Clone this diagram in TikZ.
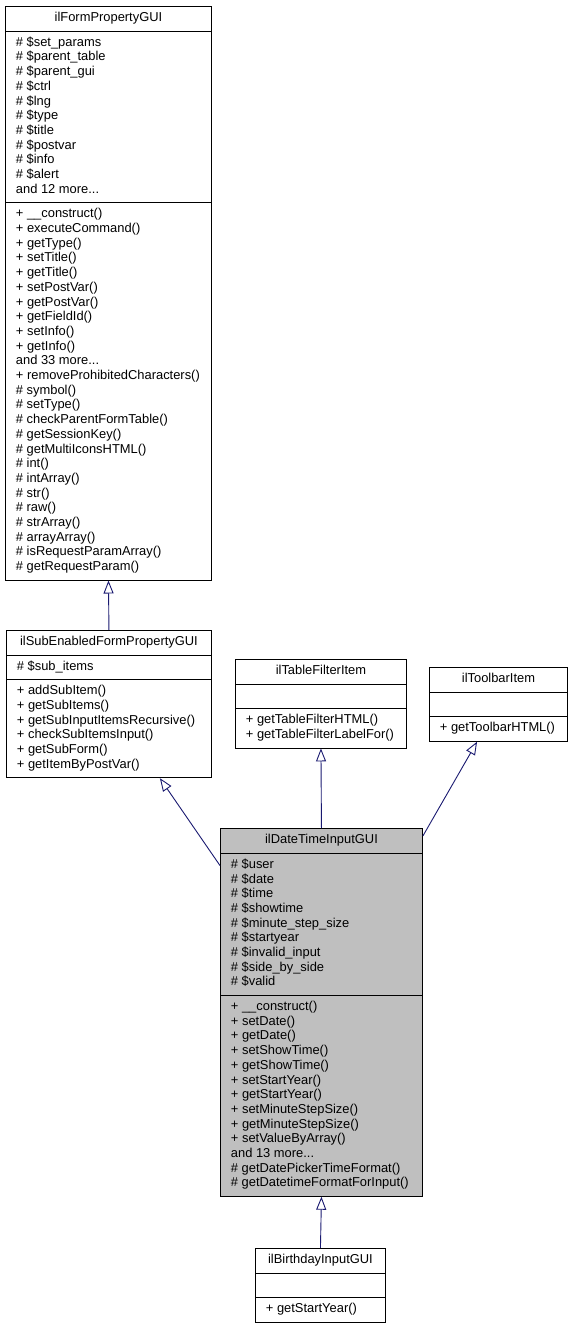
\documentclass[tikz,border=0pt]{standalone}
\usepackage{fontspec}
\setmainfont{Liberation Sans}
\usetikzlibrary{shapes.multipart,arrows.meta}
\definecolor{dtgray}{HTML}{BFBFBF}
\definecolor{edgeblue}{HTML}{191970}
\newcommand{\members}[1]{\begin{tabular}{@{}l@{}}#1\end{tabular}}
\begin{document}
\begin{tikzpicture}[x=1pt,y=-1pt]
\tikzset{classbox/.style={draw, line width=0.9pt, rectangle split, rectangle split parts=3,
  rectangle split part align={center,left,left}, anchor=north west,
  inner xsep=10.5pt, inner ysep=4.5pt, font=\fontsize{12.9}{14.7}\selectfont}}
\tikzset{inherit/.style={draw=edgeblue, line width=0.9pt, -{Triangle[open, length=13pt, width=10pt]}}}
\useasboundingbox (0,0) rectangle (574,1329);
\node[classbox, minimum width=206pt] (form) at (5,6) {\strut ilFormPropertyGUI
\nodepart{second}\members{\# \$set\_params\\ \# \$parent\_table\\ \# \$parent\_gui\\ \# \$ctrl\\
\# \$lng\\ \# \$type\\ \# \$title\\ \# \$postvar\\ \# \$info\\ \# \$alert\\ and 12 more...}
\nodepart{third}\members{+ \_\_construct()\\ + executeCommand()\\ + getType()\\ + setTitle()\\
+ getTitle()\\ + setPostVar()\\ + getPostVar()\\ + getFieldId()\\ + setInfo()\\ + getInfo()\\
and 33 more...\\ + removeProhibitedCharacters()\\ \# symbol()\\ \# setType()\\
\# checkParentFormTable()\\ \# getSessionKey()\\ \# getMultiIconsHTML()\\ \# int()\\
\# intArray()\\ \# str()\\ \# raw()\\ \# strArray()\\ \# arrayArray()\\
\# isRequestParamArray()\\ \# getRequestParam()}};
\node[classbox, minimum width=205pt] (sub) at (6,630) {\strut ilSubEnabledFormPropertyGUI
\nodepart{second}\members{\# \$sub\_items}
\nodepart{third}\members{+ addSubItem()\\ + getSubItems()\\ + getSubInputItemsRecursive()\\
+ checkSubItemsInput()\\ + getSubForm()\\ + getItemByPostVar()}};
\node[classbox, minimum width=171pt] (table) at (235,659) {\strut ilTableFilterItem
\nodepart{second}\strut
\nodepart{third}\members{+ getTableFilterHTML()\\ + getTableFilterLabelFor()}};
\node[classbox, minimum width=138pt] (toolbar) at (429,667) {\strut ilToolbarItem
\nodepart{second}\strut
\nodepart{third}\members{+ getToolbarHTML()}};
\node[classbox, fill=dtgray, minimum width=202pt] (dtime) at (220,828) {\strut ilDateTimeInputGUI
\nodepart{second}\members{\# \$user\\ \# \$date\\ \# \$time\\ \# \$showtime\\
\# \$minute\_step\_size\\ \# \$startyear\\ \# \$invalid\_input\\ \# \$side\_by\_side\\ \# \$valid}
\nodepart{third}\members{+ \_\_construct()\\ + setDate()\\ + getDate()\\ + setShowTime()\\
+ getShowTime()\\ + setStartYear()\\ + getStartYear()\\ + setMinuteStepSize()\\
+ getMinuteStepSize()\\ + setValueByArray()\\ and 13 more...\\
\# getDatePickerTimeFormat()\\ \# getDatetimeFormatForInput()}};
\node[classbox, minimum width=130pt] (bday) at (255,1248) {\strut ilBirthdayInputGUI
\nodepart{second}\strut
\nodepart{third}\members{+ getStartYear()}};
\draw[inherit] (sub.north) -- (form.south);
\draw[inherit] (dtime) -- (sub);
\draw[inherit] (dtime.north) -- (table.south);
\draw[inherit] (dtime) -- (toolbar);
\draw[inherit] (bday.north) -- (dtime.south);
\end{tikzpicture}
\end{document}
